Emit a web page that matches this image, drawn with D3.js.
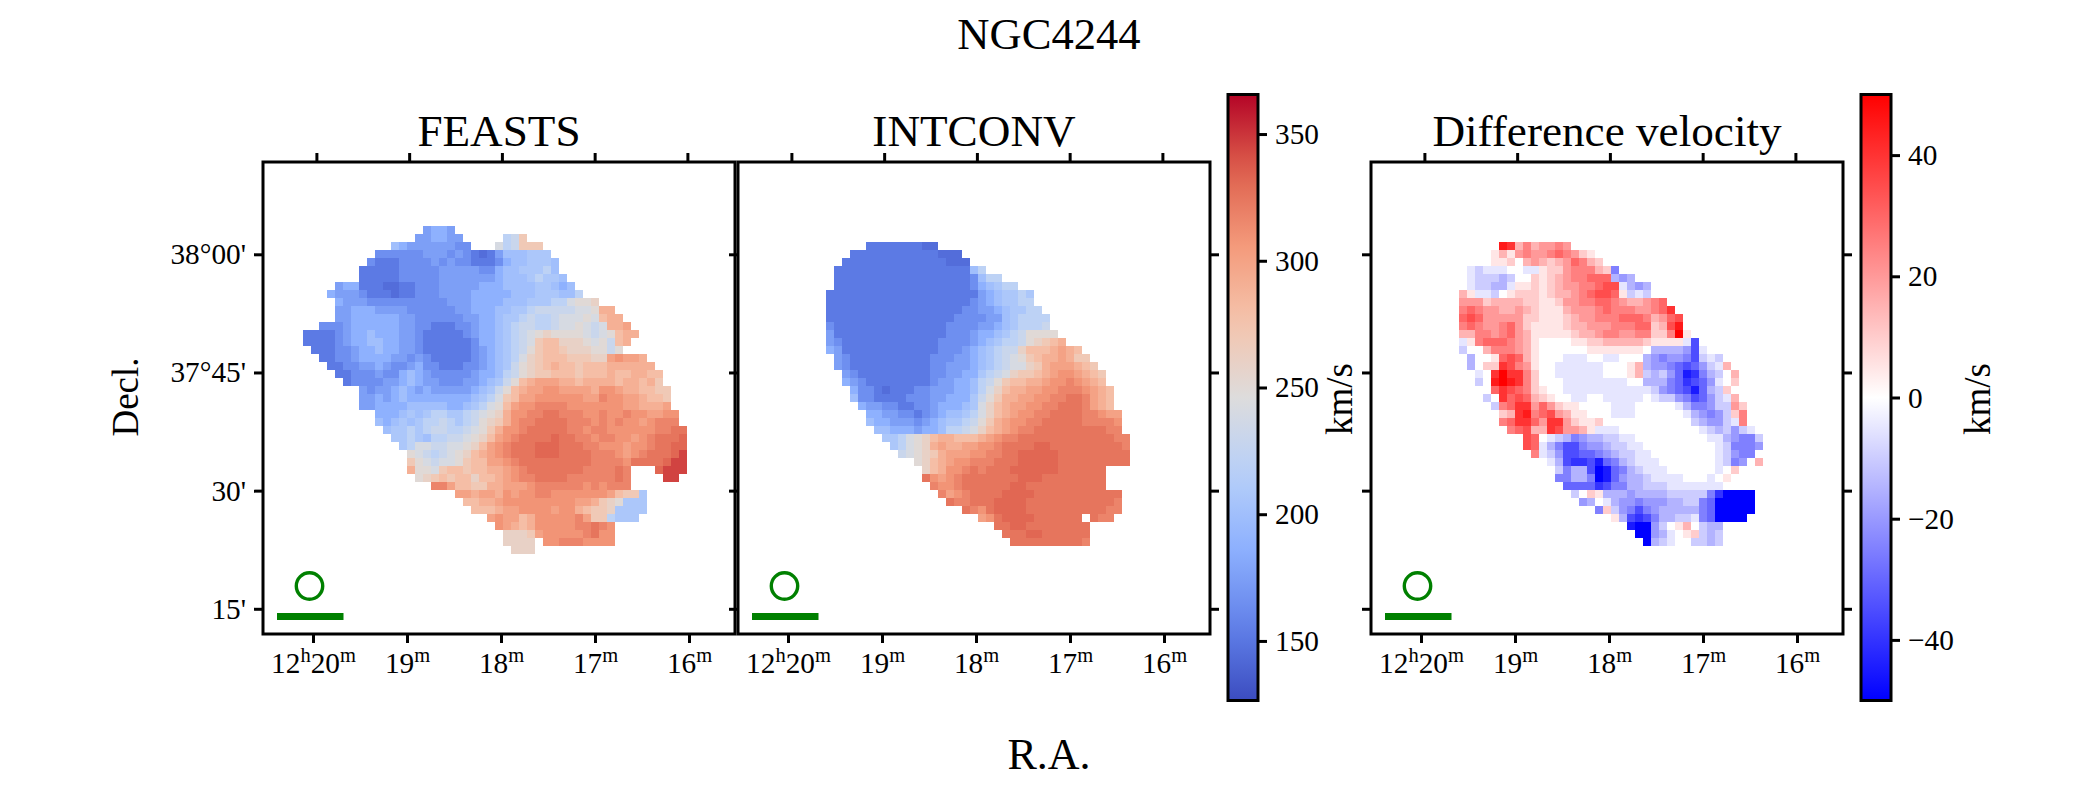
<!DOCTYPE html>
<html><head><meta charset="utf-8">
<script src="https://cdn.jsdelivr.net/npm/d3@7"></script>
<style>html,body{margin:0;background:#fff}svg{display:block}text{font-family:"Liberation Serif",serif;fill:#000}</style>
</head><body><svg id="c" width="2100" height="787"></svg>
<script>
const chartTitle = "NGC4244";
const panelTitles = ["FEASTS", "INTCONV", "Difference velocity"];
const raTicks = [20, 19, 18, 17, 16];
const raLabels = [["12","h","20","m"], ["19","m"], ["18","m"], ["17","m"], ["16","m"]];
const decTicks = [2280, 2265, 2250, 2235];
const decLabels = ["38°00'", "37°45'", "30'", "15'"];
const velocityTicks = [150, 200, 250, 300, 350];
const differenceTicks = [-40, -20, 0, 20, 40];
// each letter in a row is an index into these level tables (A = first); "." = no data
const velocityLevels = [135,145,152,165,175,187,200,208,220,230,240,250,260,270,280,290,300,309,317,325,332,345,355];
const differenceLevels = [-50,-45,-40,-35,-30,-25,-20,-15,-10,-5,0,5,10,15,20,25,30,35,40,45,50];

const feastsFirstRow = 8;
const feastsStart = [20,19,16,14,13,12,12,9,8,9,9,9,7,5,5,6,7,8,9,10,12,12,12,14,14,15,16,17,18,18,18,19,21,24,25,26,28,29,30,30,31];
const feastsRows = [
"EFFE","EEFFEE.....IJN","GFEEEEEEDD...KIJNNN","DDDDDDEEEDEDCBCEGGGHHH","DCCCDDDDEDEDDCCCDFGGHHHG",
"CCCCCDDDDDEEEEEDDFGGHHHIG","CCCCCDDDDDEEEEEEEFGGGHIHHG","EFFCCCBBCCDDDEEEEEFFFGGGGHHGFG",
"FEEEDCCCBCCDDDEEEEFFFFFGGGHHHGGI","FEEEDDDDDDDDDDEEEFFFFGGGHHHIIKLLM","EEFFFEEEEDDDDDDEEFFFGGHHIJJJJJKKLPP",
"EEFFFFFFEEDDDDDDEEFFGHHIJIIJKKKLKOPP","DDDEFFFFFFEEDDCCCDDEFFGHIJJIIJKKLKJKPPQ",
"CCCCDEFFGFFFEEDCCCCCDEFFGHIJKLMLLLLKJKLOPP","CCCCDEFFGGFFEEDCCCCCCDFFGHIJKNOOMMMLKLJOP",
"CCCDDEFFGFFEEDCCCCCCDEFGHIJLNOONMMMLLJL","CCDDEFFFFEEDEDCCCCCDEFGHIKMNOOONNNMMQRQQP",
"CCDDEEFEDDEFDDCCCDDEFGHJLMNOPOONOOOPPPPPP","CCDDDEDDFGFEDDDDDEFFGIJLMNNOOONOOOPOOPPOO",
"CDDDDEEFGFEEDDDEEFGHJLOPQQQPPOPPPPOPPOPN","EDEEFGFEFEEEEEFGHJLOPQQRRQQQQPRRQPPOONN",
"EEFEFGFFFFFFFFGHIKNOQQRRRRRRQQSRRQQPOON","EEFFFFGGGGGFFGHIKLOQRRSSSSRRRRRRRQQPPPQ",
"FFFGHGHIIHHIJKLMPRRSSTTSSSRRSRRSRRQQRR","GFGHGHIIJIHIJLMNPRSSTTTTSSSRSRSRRQRSSS",
"GHHIHIJJIIJKLNPRRSTTTTTSSRSSRRRRRRSSTT","HHIHGIIJJKLMOQRSTTTTUTTSSRSSRRQRSTTTU",
"HIKKJJKKLMOQRSTTTUUUTTTSSRRRQRRSTTUU","LKJIJKLMOPQRSTTTUUUTTTTSSSRQRSTTTUV",
"NLKJKKLNOOQQRSTTTTTTTTTSSSSRTTTTUVV","PLLKNOONOOPPQRSTTTTTTTSSSSTS...UVVV",
"LMNONOOMOOPQRSSTTTTSSSSSSTS....VV","SSQOONNPPQQQRSSSSSSRSRSSS","QQPQQPRQRRSSRRRRRRRQONNH",
"OOPPQRRRRRRRRRQQPNMLHHH","OOOPQQRRRRQRRPONNMHHHH","QRQQOPRRRRRSQNNIHHH","RQPOPRRRRRSSTSR",
"MMMNQRRRRRSTRR","MMMM.RRSSSRRRR","MMM"];

const intconvFirstRow = 10;
const intconvStart = [16,14,13,12,12,12,11,11,11,11,11,11,11,11,12,12,13,13,14,14,15,16,16,17,18,19,20,22,23,23,24,25,26,28,30,32,33,34];
const intconvRows = [
"CCCCCCCBB","CCCCCCCCCCCBBB","CCCCCCCCCCCCCBBB","CCCCCCCCCCCCCCCCCGI","CCCCCCCCCCCCCCCCCDGII",
"CCCCCCCCCCCCCCCCCDFGHII","CCCCCCCCCCCCCCCCCCCEFGHHIH","CCCCCCCCCCCCCCCCCCDEFGHHII","CCCCCCCCCCCCCCCCCDDEEFGHHII",
"CCCCCCCCCCCCCCCCDDDDEEGHIIII","DCCCCCCCCCCCCCCDDDDEEFGHIIIJ","ECCCCCCCCCCCCCCDDDEFFGHIJLLLL",
"EDCCCCCCCCCCCCDDDDEFGHIIJLMNOP","FECCCCCCCCCCCCDDDEFGHIJJMOOOPQPO","EDCCCCCCCCCCDDDEEFGHIJKLNOPPQPNN",
"EDCCCCCCCCCCDDEEEFGHIJKKMNPQQQPON","EDCCCCCCCCCDDEEFFHIJKMNNOPQRRQPON","FEDCCCCCCCCDEEFFGIJLNOOPPQRRSRQPO",
"FDDCBCCCDDEEEFFGIKMOPPQQRRSSSRQPO","GDDCCCCDDDEEFFFHJLNPPQQRRSSTTSQPO","FEEDDCCDDEFFFGHKMOPQQRRSSTTTSQPO",
"FFEEDDCDEFGGHIKMOPQRRSSTTTTSSRQQ","GFFEEEDEFGHHIJLNPQRRSSTTTTTSSSSR","GGFFFEFFGIIJKMOPQRSSTTTTTTTTTSS",
"HHIKLMOPPOOOPQRSSTTTTTTTTTTTTSS","HIKLMPQPPQQRRSTTTTUUTTTTTTTTTS","JKLMNPQQQRRSSTTUUUUUTTTTTTTTT",
"LMOPQRRSSSTTTUUUUUTTTTTTTTT","MOPRRSTSTTTUUUUUUTTTTTT","TRQRSTTTTTTTUUUTTTTTTTT","SRRSTTTTTTUUTTTTTTTTTT",
"SQRSTTTTUUUUTTTTTTTTTTT","TSSTTTUUUUTTTTTTTTTTTS","TSRTUUUUTTTTTTTTTTSS","QRTUUUUTTTTTT.TSS","TTUUTTTTTTTT","TTTUUTTTTTT","TTTTTTTTTS"];

const differenceRows = [
"TSNPNOOPO","KLNLOPOOPQPOML","KKLLMKNONMNOQPNM","JIJJJKKJJLMMOPPPNMF","JIIIHIKKMLMNOPPQQQHGH",
"JIIHHJLLMLMNOOPPQRRJHGH","NLJJIKLMMMLMNNOPQRRQLIJIKK","OOOMNNNNMMLLMOOPPQQPONNOPQ","PQPOONNONMLLLNOOOPQPPPOOPQS",
"QRQOOOOOMMLLLMNOOPPPQQQPNOQR","PQPOOPQOMLLLLMNNOOOPPPQQMNRT","NNPPOPQONLLLLLMNNOPPOOPPMMPUL",
"JLPQQQPONLKKKKLLMMNNNNNMLLLLJD","IKKNPPPONLKKKKKKLLLLLLLKHHHHGDJK","HKKLQRQNLKKKJJJKKJJKKKHGFGGFDIJI",
"HKMMSRPOLKKJJJJJJKKKLNHGGFEDEGIJN","JKSUSSPMKKJJJJJJKKKLNIHIGEBCFHIKN","IKTUTSPMKKKJJJJJJJJKKHHHFECDEGJKM",
"KQSRQPMLKKJJJJJJJJJJJIGFEDBEHIMK","IKSQRQNMLKKJJKKJJJJJKJIIGFDEGIJNK","IPQSSOQOMLLKKKKJJJKKKKKJHFFGIIOM",
"MNSTPQRONLLKKKJJJKKKKKKJHGFGIMPK","PQSSQOSSOMLLMKKKKKKKKKKKIHGGIJPK","PQRNNSROONLJJJKKKKKKKKKKJIHIGIJ",
"KRQKJIHFGHHIIJJKKKKKKKKKJJHGFFI","RQJHFDDFGGHIIJJKKKKKKKKKJIFFFG","PJIGDDEEFGHIIJJKKKKKKKKJIGFFK",
"JHDCCDBEFHIJJJKKKKKKKJIFGKN","IFHHDABEFHIJJJKKKKKKJKM","FFHHFABEGHHIJJJJKKKJKLK","EEEECDFFHHIIIJJJJJJJKK",
"IKMLHHHGHHHHIIIIIFCAAAA","GHKJHGGFGGGHHIIFEAAAAA","FMIGFDFGHHHHHFEAAAAA","LHDCDFHHIIJFEAAAA","BAAGIKLNKIHH","AAGHJKLMIHI","AHIJKKIIHI"];

const coolwarm = d3.scaleLinear().domain([0,.125,.25,.375,.5,.625,.75,.875,1])
  .range(["#3b4cc0","#6282ea","#8db0fe","#b8d0f9","#dddcdc","#f5c4ad","#f49a7b","#de604d","#b40426"])
  .interpolate(d3.interpolateRgb);
const velocityDomain = [126.5, 365.6];
const differenceDomain = [-50, 50];
const velocityNorm = d3.scaleLinear().domain(velocityDomain).range([0,1]);
const velocityColor = v => coolwarm(velocityNorm(v));
const differenceColor = d3.scaleLinear().domain([-50,0,50]).range(["#0000ff","#ffffff","#ff0000"]);

const svg = d3.select("#c");
const FS = 29.3, SIZE = 472, TOP = 162;
const lefts = [263, 738, 1371];
const col = d3.scaleLinear().domain([0,59]).rangeRound([0,472]);
const row = d3.scaleLinear().domain([0,59]).rangeRound([0,472]);
const cell = col(1)-col(0);
const xBot = d3.scaleLinear().domain([20,16]).range([50,426]);
const xTop = d3.scaleLinear().domain([20,16]).range([53.4,424.4]);
const yDec = d3.scaleLinear().domain([2280,2235]).range([92.3,446.8]);

const panels = [
 {starts:feastsStart, rows:feastsRows, first:feastsFirstRow, levels:velocityLevels, color:velocityColor},
 {starts:intconvStart, rows:intconvRows, first:intconvFirstRow, levels:velocityLevels, color:velocityColor},
 {starts:intconvStart, rows:differenceRows, first:intconvFirstRow, levels:differenceLevels, color:differenceColor}
];

function decode(p){
  const out=[];
  p.rows.forEach((s,i)=>{ for(let k=0;k<s.length;k++){ if(s[k]==="."){continue;}
    out.push({c:p.starts[i]+k, r:p.first+i, v:p.levels[s.charCodeAt(k)-65]}); }});
  return out;
}
function styleAxis(g){
  g.select(".domain").remove();
  g.selectAll(".tick line").attr("stroke","#000").attr("stroke-width",3);
}
panels.forEach((p,i)=>{
  const g = svg.append("g").attr("transform",`translate(${lefts[i]},${TOP})`);
  g.append("rect").attr("width",SIZE).attr("height",SIZE).attr("fill","#fff");
  g.append("g").attr("shape-rendering","crispEdges").selectAll("rect").data(decode(p)).join("rect")
    .attr("x",d=>col(d.c)).attr("y",d=>row(d.r)).attr("width",cell).attr("height",cell)
    .attr("fill",d=>p.color(d.v));
  g.append("circle").attr("cx",46.5).attr("cy",424).attr("r",13.2).attr("fill","none").attr("stroke","#008000").attr("stroke-width",3.4);
  g.append("rect").attr("x",14).attr("y",451).attr("width",66.5).attr("height",7).attr("fill","#008000");

  const bot = g.append("g").attr("transform",`translate(0,${SIZE})`)
    .call(d3.axisBottom(xBot).tickValues(raTicks).tickSize(9).tickFormat(""));
  styleAxis(bot);
  bot.selectAll(".tick").each(function(d,j){
    const t = d3.select(this).select("text").text(null)
      .attr("y",38.5).attr("dy",0).attr("font-size",FS).attr("text-anchor","middle").attr("font-family","Liberation Serif");
    let up=false;
    raLabels[j].forEach(s=>{
      const sup = /[hm]/.test(s);
      t.append("tspan").text(s).attr("font-size",sup?20.5:FS).attr("dy",sup?-11:(up?11:0));
      up = sup;
    });
  });
  styleAxis(g.append("g").call(d3.axisTop(xTop).tickValues(raTicks).tickSize(9).tickFormat("")));
  const left = g.append("g").call(d3.axisLeft(yDec).tickValues(decTicks).tickSize(9)
    .tickFormat((d,j)=> i===0 ? decLabels[j] : ""));
  styleAxis(left);
  left.selectAll("text").attr("font-size",FS).attr("font-family","Liberation Serif").attr("x",-17).attr("dy",9.5);
  if(i>0) styleAxis(g.append("g").attr("transform",`translate(${SIZE},0)`)
    .call(d3.axisRight(yDec).tickValues(decTicks).tickSize(9).tickFormat("")));
  g.append("rect").attr("width",SIZE).attr("height",SIZE).attr("fill","none").attr("stroke","#000").attr("stroke-width",3);
  g.append("text").attr("x",SIZE/2).attr("y",-16).attr("text-anchor","middle").attr("font-size",45.2).text(panelTitles[i]);
});

// colour bars
const defs = svg.append("defs");
function colorbar(id,x,domain,colorFn,ticks,labelX){
  const w=30, y0=94.5, y1=700.5;
  const grad = defs.append("linearGradient").attr("id",id).attr("x1",0).attr("x2",0).attr("y1",1).attr("y2",0);
  d3.range(0,1.0001,.05).forEach(t=>grad.append("stop").attr("offset",t)
    .attr("stop-color",colorFn(domain[0]+t*(domain[1]-domain[0]))));
  const g = svg.append("g");
  g.append("rect").attr("x",x).attr("y",y0).attr("width",w).attr("height",y1-y0).attr("fill",`url(#${id})`);
  const s = d3.scaleLinear().domain(domain).range([y1,y0]);
  const ax = g.append("g").attr("transform",`translate(${x+w},0)`)
    .call(d3.axisRight(s).tickValues(ticks).tickSize(9));
  styleAxis(ax);
  ax.selectAll("text").attr("font-size",FS).attr("font-family","Liberation Serif").attr("x",17).attr("dy",9.5).attr("text-anchor","start");
  g.append("rect").attr("x",x).attr("y",y0).attr("width",w).attr("height",y1-y0).attr("fill","none").attr("stroke","#000").attr("stroke-width",3);
  g.append("text").attr("transform",`translate(${labelX},399) rotate(-90)`).attr("text-anchor","middle").attr("font-size",37).text("km/s");
}
colorbar("cb1",1228,velocityDomain,velocityColor,velocityTicks,1352);
colorbar("cb2",1861,differenceDomain,differenceColor,differenceTicks,1990);

svg.append("text").attr("x",1049).attr("y",49).attr("text-anchor","middle").attr("font-size",44.6).text(chartTitle);
svg.append("text").attr("x",1049).attr("y",769).attr("text-anchor","middle").attr("font-size",44).text("R.A.");
svg.append("text").attr("transform","translate(138,397) rotate(-90)").attr("text-anchor","middle").attr("font-size",37).text("Decl.");
</script></body></html>
